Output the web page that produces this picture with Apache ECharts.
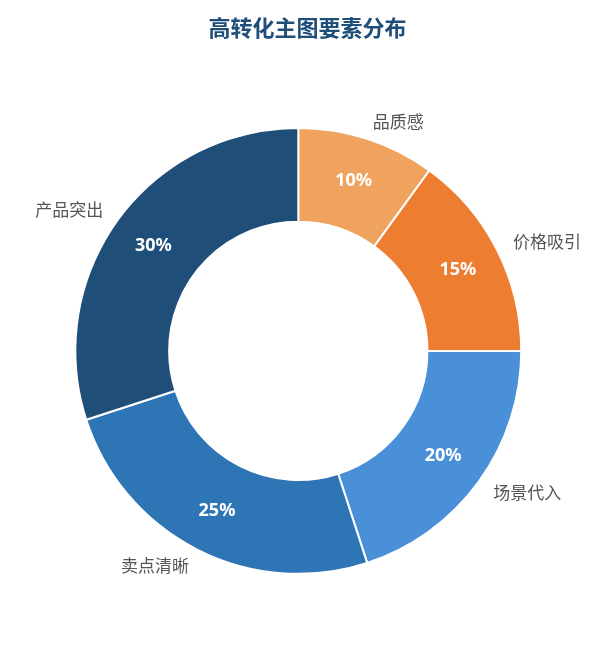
<!DOCTYPE html>
<html><head><meta charset="utf-8">
<script src="https://cdn.jsdelivr.net/npm/echarts@6/dist/echarts.min.js"></script>
<style>html,body{margin:0;padding:0}#main{width:615px;height:645px}</style>
</head><body><div id="main"></div>
<script>
var categories = ['品质感', '价格吸引', '场景代入', '卖点清晰', '产品突出'];
var values = [10, 15, 20, 25, 30];
var colors = ['#F0A35E', '#ED7D31', '#4A90D9', '#2E75B6', '#1F4E79'];

var myChart = echarts.init(document.getElementById('main'));
var data = categories.map(function (c, i) {
    return { name: c, value: values[i], itemStyle: { color: colors[i] } };
});
var base = {
    type: 'pie',
    center: ['48.5%', '54.4%'],
    radius: ['42%', '72.5%'],
    startAngle: 90,
    clockwise: true,
    itemStyle: { borderColor: '#fff', borderWidth: 2 },
    data: data
};
option = {
    title: {
        text: '高转化主图要素分布', left: 'center', top: 12,
        textStyle: { fontSize: 22, fontWeight: 'bold', color: '#1F4E79', fontFamily: 'Noto Sans CJK SC' }
    },
    series: [
        Object.assign({}, base, {
            label: { position: 'outside', formatter: '{b}', fontSize: 17, color: '#555', distanceToLabelLine: 0, fontFamily: 'Noto Sans CJK SC' },
            labelLine: { show: false, length: 18, length2: 0 }
        }),
        Object.assign({}, base, {
            label: { position: 'inside', formatter: '{c}%', fontSize: 18, fontWeight: 'bold', color: '#fff', fontFamily: 'Noto Sans' },
            labelLine: { show: false }
        })
    ]
};
myChart.setOption(option);
</script></body></html>
